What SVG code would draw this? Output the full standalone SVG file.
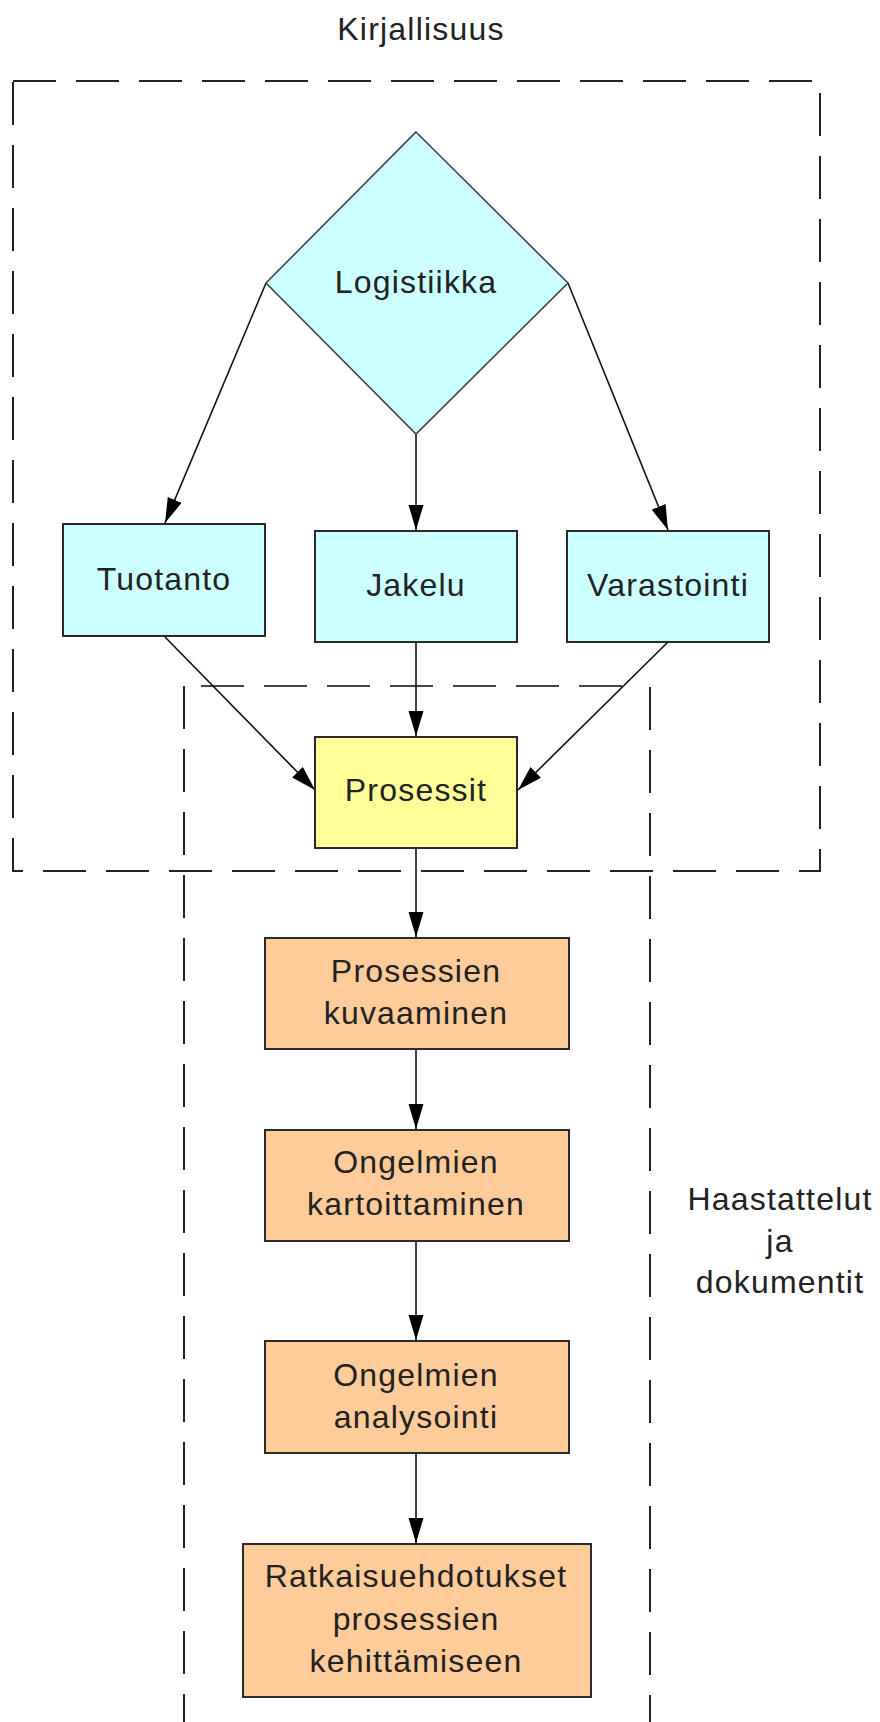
<svg xmlns="http://www.w3.org/2000/svg" width="880" height="1722" viewBox="0 0 880 1722">
<style>
  text { font-family: "Liberation Sans", Arial, sans-serif; font-size: 32px; letter-spacing: 1.2px; fill: #222; text-anchor: middle; }
  .box { stroke: #2a2a2a; stroke-width: 2; }
  .cyan { fill: #CCFFFF; }
  .yellow { fill: #FFFF99; }
  .orange { fill: #FFCC99; }
  .dash { fill: none; stroke: #222; stroke-width: 2; stroke-dasharray: 43 20; }
  .conn line { stroke: #111; stroke-width: 1.6; marker-end: url(#arrow); }
</style>
<defs>
  <marker id="arrow" markerUnits="userSpaceOnUse" markerWidth="26" markerHeight="16" refX="25" refY="7.5" orient="auto">
    <path d="M0,0 L25,7.5 L0,15 z" fill="#000"/>
  </marker>
</defs>
<rect width="880" height="1722" fill="#fff"/>

<g id="frames">
  <rect class="dash" x="13" y="81" width="807" height="790"/>
  <line class="dash" x1="201" y1="686" x2="628" y2="686" style="stroke:#444"/>
  <line class="dash" x1="184" y1="686" x2="184" y2="1722"/>
  <line class="dash" x1="650" y1="687" x2="650" y2="1722"/>
</g>

<g id="label-kirjallisuus"><text x="421" y="40">Kirjallisuus</text></g>
<g id="label-haastattelut">
  <text x="780" y="1210">Haastattelut</text>
  <text x="780" y="1252">ja</text>
  <text x="780" y="1293">dokumentit</text>
</g>

<g class="conn" id="connectors">
  <line x1="266" y1="283" x2="165" y2="523"/>
  <line x1="416" y1="434" x2="416" y2="530"/>
  <line x1="568" y1="283" x2="668" y2="530"/>
  <line x1="165" y1="637" x2="315" y2="790"/>
  <line x1="416" y1="642" x2="416" y2="736"/>
  <line x1="668" y1="642" x2="518" y2="790"/>
  <line x1="416" y1="848" x2="416" y2="937"/>
  <line x1="416" y1="1050" x2="416" y2="1129"/>
  <line x1="416" y1="1241" x2="416" y2="1340"/>
  <line x1="416" y1="1453" x2="416" y2="1543"/>
</g>

<g id="node-logistiikka">
  <polygon points="416,132 568,283 416,434 266,283" fill="#CCFFFF" stroke="#444" stroke-width="1.6"/>
  <text x="416" y="293">Logistiikka</text>
</g>
<g id="node-tuotanto">
  <rect class="box cyan" x="63" y="524" width="202" height="112"/>
  <text x="164" y="590">Tuotanto</text>
</g>
<g id="node-jakelu">
  <rect class="box cyan" x="315" y="531" width="202" height="111"/>
  <text x="416" y="596">Jakelu</text>
</g>
<g id="node-varastointi">
  <rect class="box cyan" x="567" y="531" width="202" height="111"/>
  <text x="668" y="596">Varastointi</text>
</g>
<g id="node-prosessit">
  <rect class="box yellow" x="315" y="737" width="202" height="111"/>
  <text x="416" y="801">Prosessit</text>
</g>
<g id="node-kuvaaminen">
  <rect class="box orange" x="265" y="938" width="304" height="111"/>
  <text x="416" y="982">Prosessien</text>
  <text x="416" y="1024">kuvaaminen</text>
</g>
<g id="node-kartoittaminen">
  <rect class="box orange" x="265" y="1130" width="304" height="111"/>
  <text x="416" y="1173">Ongelmien</text>
  <text x="416" y="1215">kartoittaminen</text>
</g>
<g id="node-analysointi">
  <rect class="box orange" x="265" y="1341" width="304" height="112"/>
  <text x="416" y="1386">Ongelmien</text>
  <text x="416" y="1428">analysointi</text>
</g>
<g id="node-ratkaisu">
  <rect class="box orange" x="243" y="1544" width="348" height="153"/>
  <text x="416" y="1587">Ratkaisuehdotukset</text>
  <text x="416" y="1630">prosessien</text>
  <text x="416" y="1672">kehittämiseen</text>
</g>
</svg>
